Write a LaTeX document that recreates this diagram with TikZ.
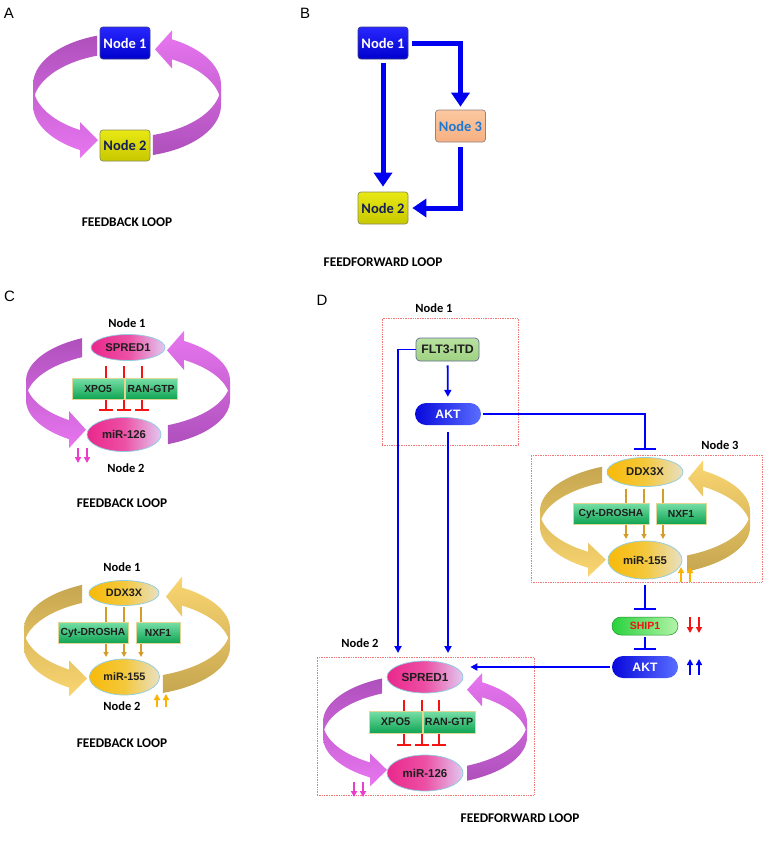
\documentclass[tikz,border=0pt]{standalone}
\usepackage{fontspec}
\setmainfont{Liberation Sans}
\newfontfamily\calib{Carlito}
\usetikzlibrary{arrows.meta,shapes.geometric,shapes.misc,calc}
\definecolor{purD}{RGB}{174,80,188}
\definecolor{purL}{RGB}{232,118,240}
\definecolor{golD}{RGB}{198,166,80}
\definecolor{golL}{RGB}{250,214,112}
\definecolor{nblueT}{RGB}{40,40,255}
\definecolor{nblueB}{RGB}{0,0,205}
\definecolor{nblueE}{RGB}{60,60,140}
\definecolor{nyelT}{RGB}{232,232,20}
\definecolor{nyelB}{RGB}{200,200,0}
\definecolor{nyelE}{RGB}{140,140,90}
\definecolor{npeachT}{RGB}{252,200,160}
\definecolor{npeachB}{RGB}{246,176,130}
\definecolor{npeachE}{RGB}{150,130,130}
\definecolor{ntext}{RGB}{20,30,90}
\definecolor{nthree}{RGB}{30,120,210}
\definecolor{barr}{RGB}{0,0,240}
\definecolor{darr}{RGB}{0,0,250}
\definecolor{pinkA}{RGB}{234,40,140}
\definecolor{pinkM}{RGB}{236,80,164}
\definecolor{pinkB}{RGB}{226,200,240}
\definecolor{yelA}{RGB}{248,186,10}
\definecolor{yelM}{RGB}{244,200,60}
\definecolor{yelB}{RGB}{232,224,196}
\definecolor{ellEdge}{RGB}{140,205,225}
\definecolor{grA}{RGB}{120,224,168}
\definecolor{grB}{RGB}{16,164,84}
\definecolor{boxedge}{RGB}{226,214,150}
\definecolor{inhred}{RGB}{245,20,20}
\definecolor{goldarr}{RGB}{214,156,40}
\definecolor{dotred}{RGB}{240,120,120}
\definecolor{pinkarr}{RGB}{236,60,204}
\definecolor{orarr}{RGB}{252,178,0}
\definecolor{fltT}{RGB}{184,226,160}
\definecolor{fltB}{RGB}{160,210,130}
\definecolor{fltE}{RGB}{100,110,150}
\definecolor{aktA}{RGB}{8,8,220}
\definecolor{aktB}{RGB}{90,110,255}
\definecolor{shipA}{RGB}{40,210,60}
\definecolor{shipB}{RGB}{180,244,170}
\definecolor{molt}{RGB}{30,30,30}
\definecolor{redtxt}{RGB}{240,20,20}

\newcommand{\ringset}[5]{\def\rcx{#1}\def\rcy{#2}\def\ra{#3}\def\rb{#4}\def\rh{#5}}
% left arrow: #1 x start (top), #2 x of head base (bottom), #3 x tip, #4 head overhang, #5 top colour, #6 bottom colour
\newcommand{\ringleft}[6]{%
 \pgfmathsetmacro\rgtA{360-acos((#1-\rcx)/\ra)}%
 \pgfmathsetmacro\rgtB{acos((#2-\rcx)/\ra)}%
 \pgfmathsetmacro\rgDl{asin(\rh/(2*\rb))}%
 \pgfmathsetmacro\rgyU{\rcy+\rb*sin(\rgtB)}%
 \pgfmathsetmacro\rgyL{\rcy+\rh+\rb*sin(\rgtB)}%
 \pgfmathsetmacro\rgLo{180-\rgDl}%
 \pgfmathsetmacro\rgHi{180+\rgDl}%
 \shade[top color=#5, bottom color=#6]
   plot[domain=\rgtA:180,samples=40] ({\rcx+\ra*cos(\x)},{\rcy+\rb*sin(\x)})
   -- plot[domain=180:\rgtB,samples=40] ({\rcx+\ra*cos(\x)},{\rcy+\rh+\rb*sin(\x)})
   -- ({#2},{\rgyL+#4}) -- ({#3},{(\rgyU+\rgyL)/2}) -- ({#2},{\rgyU-#4})
   -- plot[domain=\rgtB:\rgLo,samples=40] ({\rcx+\ra*cos(\x)},{\rcy+\rb*sin(\x)})
   -- plot[domain=\rgHi:\rgtA,samples=40] ({\rcx+\ra*cos(\x)},{\rcy+\rh+\rb*sin(\x)})
   -- cycle;}
% right arrow: #1 x start (bottom), #2 x of head base (top), #3 x tip, #4 overhang, #5 top colour, #6 bottom colour
\newcommand{\ringright}[6]{%
 \pgfmathsetmacro\rgtC{acos((#1-\rcx)/\ra)}%
 \pgfmathsetmacro\rgtD{360-acos((#2-\rcx)/\ra)}%
 \pgfmathsetmacro\rgDl{asin(\rh/(2*\rb))}%
 \pgfmathsetmacro\rgyU{\rcy+\rb*sin(\rgtD)}%
 \pgfmathsetmacro\rgyL{\rcy+\rh+\rb*sin(\rgtD)}%
 \pgfmathsetmacro\rgLo{360-\rgDl}%
 \shade[top color=#5, bottom color=#6]
   plot[domain=\rgtC:0,samples=40] ({\rcx+\ra*cos(\x)},{\rcy+\rh+\rb*sin(\x)})
   -- plot[domain=360:\rgtD,samples=40] ({\rcx+\ra*cos(\x)},{\rcy+\rb*sin(\x)})
   -- ({#2},{\rgyU-#4}) -- ({#3},{(\rgyU+\rgyL)/2}) -- ({#2},{\rgyL+#4})
   -- plot[domain=\rgtD:\rgLo,samples=40] ({\rcx+\ra*cos(\x)},{\rcy+\rh+\rb*sin(\x)})
   -- plot[domain=\rgDl:\rgtC,samples=40] ({\rcx+\ra*cos(\x)},{\rcy+\rb*sin(\x)})
   -- cycle;}

\tikzset{
  abox/.style={rectangle, rounded corners=3pt, minimum width=50pt, minimum height=32pt, inner sep=0pt, line width=0.7pt, font=\calib\bfseries\fontsize{14.5}{14.5}\selectfont},
  bluebox/.style={abox, top color=nblueT, bottom color=nblueB, draw=nblueE, text=white},
  yelbox/.style={abox, top color=nyelT, bottom color=nyelB, draw=nyelE, text=ntext},
  peachbox/.style={abox, top color=npeachT, bottom color=npeachB, draw=npeachE, text=nthree},
  lbl/.style={font=\calib\bfseries\fontsize{12.5}{12.5}\selectfont},
  capt/.style={font=\calib\bfseries\fontsize{13.3}{13.3}\selectfont},
  panel/.style={font=\fontsize{15}{15}\selectfont},
  pinkell/.style={ellipse, inner sep=0pt, draw=ellEdge, line width=0.7pt, left color=pinkA, right color=pinkB, middle color=pinkM, text=molt, font=\bfseries\fontsize{11.3}{11.3}\selectfont},
  yelell/.style={ellipse, inner sep=0pt, draw=ellEdge, line width=0.7pt, left color=yelA, right color=yelB, middle color=yelM, text=molt, font=\bfseries\fontsize{10.8}{10.8}\selectfont},
  grbox/.style={rectangle, inner sep=0pt, draw=boxedge, line width=0.9pt, top color=grA, bottom color=grB, text=molt, font=\bfseries\fontsize{10.3}{10.3}\selectfont},
  fltbox/.style={rectangle, rounded corners=4pt, inner sep=0pt, draw=fltE, line width=0.7pt, top color=fltT, bottom color=fltB, text=molt, font=\bfseries\fontsize{12.3}{12.3}\selectfont},
  aktpill/.style={rounded rectangle, inner sep=0pt, minimum width=66pt, minimum height=22pt, left color=aktA, right color=aktB, text=white, font=\bfseries\fontsize{12.2}{12.2}\selectfont},
  shippill/.style={rounded rectangle, inner sep=0pt, minimum width=66pt, minimum height=18pt, left color=shipA, right color=shipB, draw=shipA!70!black, line width=0.5pt, text=redtxt, font=\bfseries\fontsize{10.5}{10.5}\selectfont},
  dotbox/.style={rectangle, draw=dotred, densely dotted, line width=0.7pt, inner sep=0pt},
  bthick/.style={draw=barr, line width=5pt, -{Triangle[width=18pt,length=14pt]}},
  dline/.style={draw=darr, line width=1.8pt},
  darrow/.style={dline, -{Triangle[width=7pt,length=7pt]}},
  dinh/.style={dline, -{Bar[width=22pt,line width=1.8pt]}},
  rinh/.style={draw=inhred, line width=1.5pt, -{Bar[width=14pt,line width=1.6pt]}},
  garr/.style={draw=goldarr, line width=1.2pt, -{Triangle[width=5pt,length=5pt]}},
  pinkar/.style={draw=pinkarr, line width=1.6pt, -{Triangle[width=6pt,length=6pt]}},
  orar/.style={draw=orarr, line width=1.6pt, -{Triangle[width=6pt,length=6pt]}},
  redar/.style={draw=inhred, line width=1.6pt, -{Triangle[width=6pt,length=6pt]}},
  bluar/.style={draw=darr, line width=1.6pt, -{Triangle[width=6pt,length=6pt]}}
}

\begin{document}
\begin{tikzpicture}[x=1pt,y=-1pt]
\useasboundingbox[fill=white] (0,0) rectangle (766,846);

% ---------------- Panel A
\node[panel] (labA) at (9,13) {A};
\ringset{127}{85}{94}{52}{20}
\ringleft{97}{80}{98}{8}{purD}{purL}
\ringright{153}{172}{155}{9}{purL}{purD}
\node[bluebox] (a1) at (125,43) {Node 1};
\node[yelbox, minimum height=31pt] (a2) at (125,145.5) {Node 2};
\node[capt] (capA) at (127,222) {FEEDBACK LOOP};

% ---------------- Panel B
\node[panel] (labB) at (305,13) {B};
\node[bluebox] (b1) at (383,43) {Node 1};
\node[peachbox] (b3) at (460.5,126) {Node 3};
\node[yelbox] (b2) at (383,208) {Node 2};
\draw[bthick, shorten <=4pt, shorten >=5pt] (b1) -- (b2);
\draw[bthick, shorten <=4pt, shorten >=3pt] (b1.east) -| (b3.north);
\draw[bthick, shorten <=5pt, shorten >=4pt] (b3.south) |- (b2.east);
\node[capt] (capB) at (383,262) {FEEDFORWARD LOOP};

% ---------------- Panel C (top)
\node[panel] (labC) at (9.5,296) {C};
\node[lbl] (c1lab) at (127,323) {Node 1};
\ringset{128}{381}{102}{48}{19}
\ringleft{82}{69}{86}{9}{purD}{purL}
\ringright{168}{184}{167}{10}{purL}{purD}
\foreach \xx in {106,124,142} \draw[rinh] (\xx,366) -- (\xx,411);
\node[grbox, minimum width=52pt, minimum height=21pt] (cxpo) at (98,388.5) {XPO5};
\node[grbox, minimum width=52pt, minimum height=21pt] (cran) at (151,388.5) {RAN-GTP};
\node[pinkell, minimum width=74pt, minimum height=26pt] (cspr) at (128,347.5) {SPRED1};
\node[pinkell, minimum width=74pt, minimum height=34pt] (cmir) at (124,434.5) {miR-126};
\foreach \xx in {78,87} \draw[pinkar] (\xx,448) -- (\xx,463);
\node[lbl] (c2lab) at (126,468) {Node 2};
\node[capt] (capC1) at (122,503) {FEEDBACK LOOP};

% ---------------- Panel C (bottom)
\node[lbl] (c3lab) at (122,567) {Node 1};
\ringset{127}{629}{103}{49}{18}
\ringleft{82}{69}{87}{9}{golD}{golL}
\ringright{163}{182}{166}{11}{golL}{golD}
\foreach \xx in {106,124,141} \draw[garr] (\xx,607) -- (\xx,657);
\node[grbox, minimum width=70pt, minimum height=21pt] (cdro) at (93,632.5) {Cyt-DROSHA};
\node[grbox, minimum width=44pt, minimum height=21pt] (cnxf) at (158,632.5) {NXF1};
\node[yelell, minimum width=70pt, minimum height=25pt] (cddx) at (124,593) {DDX3X};
\node[yelell, minimum width=70pt, minimum height=36pt] (cm155) at (124.5,677) {miR-155};
\foreach \xx in {157,166} \draw[orar] (\xx,707) -- (\xx,694);
\node[lbl] (c4lab) at (122,706) {Node 2};
\node[capt] (capC2) at (122,743) {FEEDBACK LOOP};

% ---------------- Panel D
\node[panel] (labD) at (322,300) {D};
\node[dotbox, minimum width=136pt, minimum height=127pt] (n1box) at (450,381.5) {};
\node[dotbox, minimum width=231pt, minimum height=127pt] (n3box) at (646.5,518.5) {};
\node[dotbox, minimum width=217pt, minimum height=138pt] (n2box) at (425.5,726) {};
\node[lbl] (d1lab) at (434,308) {Node 1};
\node[lbl] (d3lab) at (720,445) {Node 3};
\node[lbl] (d2lab) at (360,643) {Node 2};

\node[fltbox, minimum width=63pt, minimum height=23pt] (flt) at (447.5,349.5) {FLT3-ITD};
\node[aktpill] (akt1) at (448,414) {AKT};

% Node 3 complex
\ringset{645}{511}{105}{48.5}{16}
\ringleft{602}{588}{606}{9}{golD}{golL}
\ringright{687}{703}{688}{10}{golL}{golD}
\foreach \xx in {626,644,663} \draw[garr] (\xx,489) -- (\xx,539);
\node[grbox, minimum width=76pt, minimum height=21pt] (ddro) at (611,513.5) {Cyt-DROSHA};
\node[grbox, minimum width=50pt, minimum height=21pt] (dnxf) at (681,513.5) {NXF1};
\node[yelell, minimum width=76pt, minimum height=29pt, font=\bfseries\fontsize{11.3}{11.3}\selectfont] (dddx) at (645,472) {DDX3X};
\node[yelell, minimum width=74pt, minimum height=38pt, font=\bfseries\fontsize{11.3}{11.3}\selectfont] (dm155) at (645,560) {miR-155};
\foreach \xx in {681,690} \draw[orar] (\xx,582) -- (\xx,567);

\node[shippill] (ship) at (645,626) {SHIP1};
\foreach \xx in {690,699} \draw[redar] (\xx,617) -- (\xx,633);
\node[aktpill] (akt2) at (645,667) {AKT};
\foreach \xx in {690,699} \draw[bluar] (\xx,675) -- (\xx,659);

% Node 2 complex
\ringset{425}{722}{102}{48}{15}
\ringleft{382}{370}{387}{9}{purD}{purL}
\ringright{467}{482}{467}{9}{purL}{purD}
\foreach \xx in {404,422,439} \draw[rinh] (\xx,700) -- (\xx,746);
\node[grbox, minimum width=53pt, minimum height=22pt, font=\bfseries\fontsize{11}{11}\selectfont] (dxpo) at (395.5,722) {XPO5};
\node[grbox, minimum width=52pt, minimum height=22pt, font=\bfseries\fontsize{10.6}{10.6}\selectfont] (dran) at (449,722) {RAN-GTP};
\node[pinkell, minimum width=76pt, minimum height=32pt, font=\bfseries\fontsize{11.7}{11.7}\selectfont] (dspr) at (425,677) {SPRED1};
\node[pinkell, minimum width=76pt, minimum height=36pt, font=\bfseries\fontsize{11.5}{11.5}\selectfont] (dmir) at (425,773) {miR-126};
\foreach \xx in {354,363} \draw[pinkar] (\xx,782) -- (\xx,797);

% connectors
\coordinate (fin) at (398,653);
\draw[darrow, shorten <=4pt, shorten >=6pt] (flt) -- (akt1);
\draw[darrow] (flt.west) -| (fin);
\draw[darrow, shorten <=7pt] (akt1.south) -- (akt1.south |- fin);
\draw[dinh, shorten <=2pt, shorten >=7pt] (akt1.east) -| (dddx.north);
\draw[dinh, shorten <=6pt, shorten >=7pt] (dm155.south) -- (ship.north);
\draw[dinh, shorten <=2pt, shorten >=6pt] (ship.south) -- (akt2.north);
\draw[darrow, shorten <=2pt, shorten >=7pt] (akt2.west) -- (akt2.west -| dspr.east);

\node[capt] (capD) at (520,818) {FEEDFORWARD LOOP};
\end{tikzpicture}
\end{document}
